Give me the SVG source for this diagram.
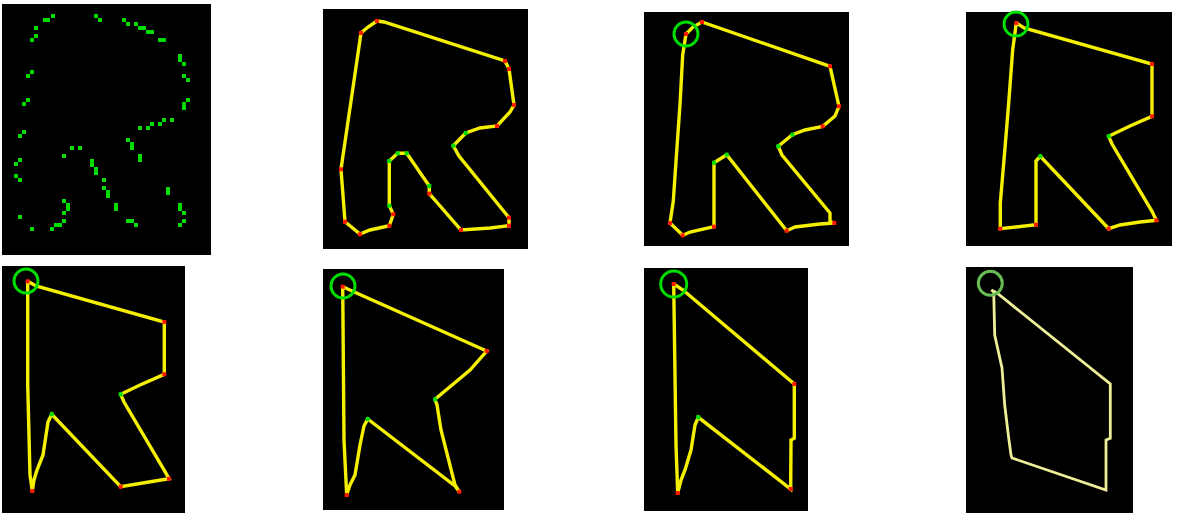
<svg xmlns="http://www.w3.org/2000/svg" width="1184" height="513" viewBox="0 0 1184 513">
<style>
.bg{fill:#000}
.ln{fill:none;stroke:#f5f000;stroke-width:3.4;stroke-linejoin:miter}
.ln8{fill:none;stroke:#eeee99;stroke-width:2.8}
.ring{fill:none;stroke:#00dd00;stroke-width:3}
.ring8{fill:none;stroke:#66bb55;stroke-width:3}
.r{fill:#ff1a00}
.g{fill:#00e000}
.d{fill:#00dd00}
</style>
<rect width="1184" height="513" fill="#fff"/>

<g id="panel1">
<rect class="bg" x="2" y="4" width="209" height="251"/>
<g class="d">
<rect x="43" y="18" width="7" height="4"/><rect x="51" y="14" width="4" height="4"/>
<rect x="34" y="26" width="4" height="4"/><rect x="34" y="34" width="4" height="4"/><rect x="30" y="38" width="4" height="4"/>
<rect x="94" y="14" width="4" height="4"/><rect x="98" y="18" width="4" height="4"/>
<rect x="122" y="18" width="4" height="4"/><rect x="126" y="22" width="4" height="4"/>
<rect x="134" y="22" width="4" height="4"/><rect x="138" y="26" width="8" height="4"/><rect x="146" y="30" width="8" height="4"/>
<rect x="158" y="38" width="8" height="4"/>
<rect x="178" y="54" width="4" height="8"/><rect x="182" y="62" width="4" height="4"/>
<rect x="182" y="74" width="4" height="4"/><rect x="186" y="78" width="4" height="4"/>
<rect x="186" y="98" width="4" height="4"/><rect x="182" y="102" width="4" height="8"/>
<rect x="170" y="118" width="4" height="4"/><rect x="162" y="118" width="4" height="4"/><rect x="158" y="122" width="4" height="4"/>
<rect x="150" y="122" width="4" height="4"/><rect x="146" y="126" width="4" height="4"/><rect x="138" y="126" width="4" height="4"/>
<rect x="126" y="138" width="4" height="4"/><rect x="130" y="142" width="4" height="8"/>
<rect x="138" y="154" width="4" height="8"/>
<rect x="30" y="70" width="4" height="4"/><rect x="26" y="74" width="4" height="4"/>
<rect x="26" y="98" width="4" height="4"/><rect x="22" y="102" width="4" height="4"/>
<rect x="22" y="130" width="4" height="4"/><rect x="18" y="134" width="4" height="4"/>
<rect x="18" y="158" width="4" height="4"/><rect x="14" y="162" width="4" height="4"/>
<rect x="14" y="174" width="4" height="4"/><rect x="18" y="178" width="4" height="4"/>
<rect x="18" y="215" width="4" height="4"/>
<rect x="30" y="227" width="4" height="4"/>
<rect x="50" y="227" width="4" height="4"/><rect x="54" y="223" width="8" height="4"/><rect x="62" y="219" width="4" height="4"/>
<rect x="62" y="211" width="4" height="4"/><rect x="66" y="203" width="4" height="8"/><rect x="62" y="199" width="4" height="4"/>
<rect x="62" y="154" width="4" height="4"/><rect x="70" y="146" width="4" height="4"/><rect x="78" y="146" width="4" height="4"/>
<rect x="90" y="159" width="4" height="8"/><rect x="94" y="167" width="4" height="8"/>
<rect x="102" y="178" width="4" height="4"/><rect x="102" y="186" width="4" height="4"/><rect x="106" y="190" width="4" height="8"/>
<rect x="114" y="203" width="4" height="8"/>
<rect x="126" y="219" width="8" height="4"/><rect x="134" y="223" width="4" height="4"/>
<rect x="166" y="187" width="4" height="8"/>
<rect x="178" y="203" width="4" height="8"/><rect x="182" y="211" width="4" height="4"/>
<rect x="182" y="219" width="4" height="4"/><rect x="178" y="223" width="4" height="4"/>
</g>
</g>

<g id="panel2">
<rect class="bg" x="323" y="9" width="205" height="240"/>
<polyline class="ln" points="377,21 384,22 505,61 509,69 514,105 510,112 497,126 480,128 465.7,133 453.3,145.7 459,156 509,217.7 509,225.7 490,228 461,230 429.3,193.7 429.3,186 406.7,153.3 397.7,153.3 389.3,161 389.3,205.7 393.3,214.3 389.3,225.7 370,230 360,234 345,221.7 341,169.3 361,33 368,27 377,21"/>
<g class="r">
<rect x="375" y="19" width="4" height="4"/><rect x="359" y="31" width="4" height="4"/>
<rect x="503" y="59" width="4" height="4"/><rect x="507" y="67" width="4" height="4"/>
<rect x="512" y="103" width="4" height="4"/><rect x="495" y="124" width="4" height="4"/>
<rect x="507" y="215.7" width="4" height="4"/><rect x="507" y="223.7" width="4" height="4"/>
<rect x="459" y="228" width="4" height="4"/><rect x="427.3" y="191.7" width="4" height="4"/>
<rect x="391.3" y="212.3" width="4" height="4"/><rect x="387.3" y="223.7" width="4" height="4"/>
<rect x="358" y="232.3" width="4" height="4"/><rect x="343" y="219.7" width="4" height="4"/>
<rect x="339" y="167.3" width="4" height="4"/>
</g>
<g class="g">
<rect x="463.7" y="131" width="4" height="4"/><rect x="451.3" y="143.7" width="4" height="4"/>
<rect x="427.3" y="184" width="4" height="4"/><rect x="404.7" y="151.3" width="4" height="4"/>
<rect x="395.7" y="151.3" width="4" height="4"/><rect x="387.3" y="159" width="4" height="4"/>
<rect x="387.3" y="203.7" width="4" height="4"/>
</g>
</g>

<g id="panel3">
<rect class="bg" x="644" y="12" width="205" height="234"/>
<polyline class="ln" points="686,34 693,27 702,22 830,66.3 839,106.3 835,116 822.7,126.3 805,130 792.3,134.7 778.3,146.3 782,155 830,213 830,221.3 834.3,223 820,224 795,227 786.7,230.7 726.7,154.7 714,162.7 714,226.7 690,232 682.7,235.3 670,223 673.3,201 676.7,151 680,104.7 682.7,54.7 686,34"/>
<circle class="ring" cx="686" cy="34" r="12"/>
<g class="r">
<rect x="684" y="32" width="4" height="4"/><rect x="700" y="20" width="4" height="4"/>
<rect x="828" y="64.3" width="4" height="4"/><rect x="837" y="104.3" width="4" height="4"/>
<rect x="820.7" y="124.3" width="4" height="4"/><rect x="832.3" y="221" width="4" height="4"/>
<rect x="784.7" y="228.7" width="4" height="4"/><rect x="712" y="224.7" width="4" height="4"/>
<rect x="680.7" y="233.3" width="4" height="4"/><rect x="668" y="221" width="4" height="4"/>
</g>
<g class="g">
<rect x="790.3" y="132.7" width="4" height="4"/><rect x="776.3" y="144.3" width="4" height="4"/>
<rect x="724.7" y="152.7" width="4" height="4"/><rect x="712" y="160.7" width="4" height="4"/>
</g>
</g>

<g id="panel4">
<rect class="bg" x="966" y="12" width="206" height="234"/>
<polyline class="ln" points="1016.3,23 1024,28 1152,64 1152,116.3 1130,126 1108.7,136.3 1112,144 1152,211.3 1156.3,220.3 1140,222 1120,225 1108.7,228.7 1040.3,156.3 1036,161 1036,224.7 1000.3,228.7 1000.3,203 1004.7,151.3 1008.7,103 1012.7,49.7 1016.3,23"/>
<circle class="ring" cx="1016" cy="24" r="12"/>
<g class="r">
<rect x="1014.3" y="21" width="4" height="4"/><rect x="1150" y="62" width="4" height="4"/>
<rect x="1150" y="114.3" width="4" height="4"/><rect x="1154.3" y="218.3" width="4" height="4"/>
<rect x="1106.7" y="226.7" width="4" height="4"/><rect x="1034" y="222.7" width="4" height="4"/>
<rect x="998.3" y="226.7" width="4" height="4"/>
</g>
<g class="g">
<rect x="1106.7" y="134.3" width="4" height="4"/><rect x="1038.3" y="154.3" width="4" height="4"/>
</g>
</g>

<g id="panel5">
<rect class="bg" x="2" y="266" width="183" height="247"/>
<polyline class="ln" points="27.7,281.3 36,286 164.3,322 164.3,374.3 140,385 120.7,394.3 124,402 164.3,470.3 169,478.7 155,481 120.7,486.7 51.7,414.3 48,422 43,455 37,470 34,480 32.3,491 30,475 27.7,383.7 27.7,281.3"/>
<circle class="ring" cx="26" cy="281" r="12"/>
<g class="r">
<rect x="25.7" y="279.3" width="4" height="4"/><rect x="162.3" y="320" width="4" height="4"/>
<rect x="162.3" y="372.3" width="4" height="4"/><rect x="167" y="476.7" width="4" height="4"/>
<rect x="118.7" y="484.7" width="4" height="4"/><rect x="30.3" y="489" width="4" height="4"/>
</g>
<g class="g">
<rect x="118.7" y="392.3" width="4" height="4"/><rect x="49.7" y="412.3" width="4" height="4"/>
</g>
</g>

<g id="panel6">
<rect class="bg" x="323" y="269" width="181" height="241"/>
<polyline class="ln" points="342.7,286.7 352,291 486.7,351 470,370 435,399.3 437,405 441,430 455,485 459.3,491.7 455,486 367.7,419 364,426 360,445 355,475 350,485 346.7,495 344,440 342.7,286.7"/>
<circle class="ring" cx="343" cy="286" r="12"/>
<g class="r">
<rect x="340.7" y="284.7" width="4" height="4"/><rect x="484.7" y="349" width="4" height="4"/>
<rect x="457.3" y="489.7" width="4" height="4"/><rect x="344.7" y="493" width="4" height="4"/>
</g>
<g class="g">
<rect x="433" y="397.3" width="4" height="4"/><rect x="365.7" y="417" width="4" height="4"/>
</g>
</g>

<g id="panel7">
<rect class="bg" x="644" y="268" width="164" height="243"/>
<polyline class="ln" points="673.7,284 683,290 794.3,384 794.3,438.3 791,440 790.7,489 698.3,417.3 695,425 691,450 685,470 681,480 677.7,493 676,445 673.7,284"/>
<circle class="ring" cx="673.7" cy="284" r="13"/>
<g class="r">
<rect x="671.7" y="282" width="4" height="4"/><rect x="792.3" y="382" width="4" height="4"/>
<rect x="788.7" y="487" width="4" height="4"/><rect x="675.7" y="491" width="4" height="4"/>
</g>
<g class="g">
<rect x="696.3" y="415.3" width="4" height="4"/>
</g>
</g>

<g id="panel8">
<rect class="bg" x="966" y="267" width="167" height="246"/>
<polyline class="ln8" points="991.3,290 997,293 1110.3,384 1110.3,438.3 1106,440 1106,490 1012,458 1011,455 1008.7,438 1004.7,405 1002,368 994.7,335 993.7,291.7 991.3,290"/>
<circle class="ring8" cx="990.3" cy="283.3" r="12"/>
</g>
</svg>
